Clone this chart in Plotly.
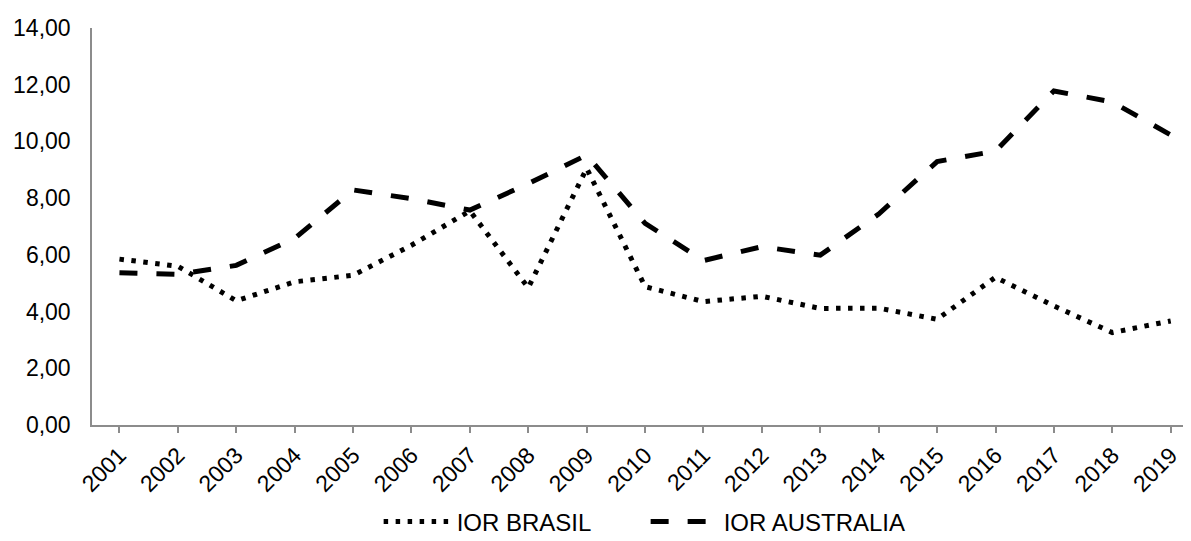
import plotly.graph_objects as go

years = [str(y) for y in range(2001, 2020)]
ior_brasil = [5.85, 5.60, 4.38, 5.05, 5.28, 6.34, 7.55, 4.84, 9.05, 4.88,
              4.35, 4.54, 4.11, 4.12, 3.73, 5.21, 4.20, 3.26, 3.67]
ior_australia = [5.37, 5.31, 5.63, 6.58, 8.29, 7.98, 7.58, 8.51, 9.52, 7.11,
                 5.80, 6.29, 5.99, 7.44, 9.29, 9.66, 11.78, 11.39, 10.23]
y_ticks = [0, 2, 4, 6, 8, 10, 12, 14]
y_tick_labels = ["0,00", "2,00", "4,00", "6,00", "8,00", "10,00", "12,00", "14,00"]

FONT = "Liberation Sans, Arial, sans-serif"
AXIS_GRAY = "#8c8c8c"
FS = 23

fig = go.Figure()
fig.add_trace(go.Scatter(
    x=years, y=ior_brasil, name="IOR BRASIL", mode="lines",
    line=dict(color="black", width=5, dash="4.5px,7.5px"),
))
fig.add_trace(go.Scatter(
    x=years, y=ior_australia, name="IOR AUSTRALIA", mode="lines",
    line=dict(color="black", width=5, dash="18px,19px"),
))

fig.update_layout(
    width=1183, height=533,
    margin=dict(l=84, r=1, t=20, b=116),
    paper_bgcolor="white", plot_bgcolor="white",
    font=dict(family=FONT, size=FS, color="black"),
    showlegend=True,
    legend=dict(
        orientation="h", xref="container", yref="container",
        x=0.539, xanchor="center", y=0.036, yanchor="middle",
        font=dict(family=FONT, size=24, color="black"),
        itemwidth=68, entrywidth=184, tracegroupgap=0,
    ),
    xaxis=dict(
        type="category", range=[-0.47, 18.33],
        showline=True, linecolor=AXIS_GRAY, linewidth=1.5,
        ticks="outside", ticklen=6, tickwidth=1.5, tickcolor=AXIS_GRAY,
        tickangle=-45, showgrid=False, zeroline=False,
        tickfont=dict(family=FONT, size=FS, color="black"),
    ),
    yaxis=dict(
        range=[0, 14], tickvals=y_ticks, ticktext=y_tick_labels,
        showline=True, linecolor=AXIS_GRAY, linewidth=1.5,
        ticks="", showgrid=False, zeroline=False,
        ticklabelstandoff=15,
        tickfont=dict(family=FONT, size=FS, color="black"),
    ),
)

fig.write_html("out.html")
